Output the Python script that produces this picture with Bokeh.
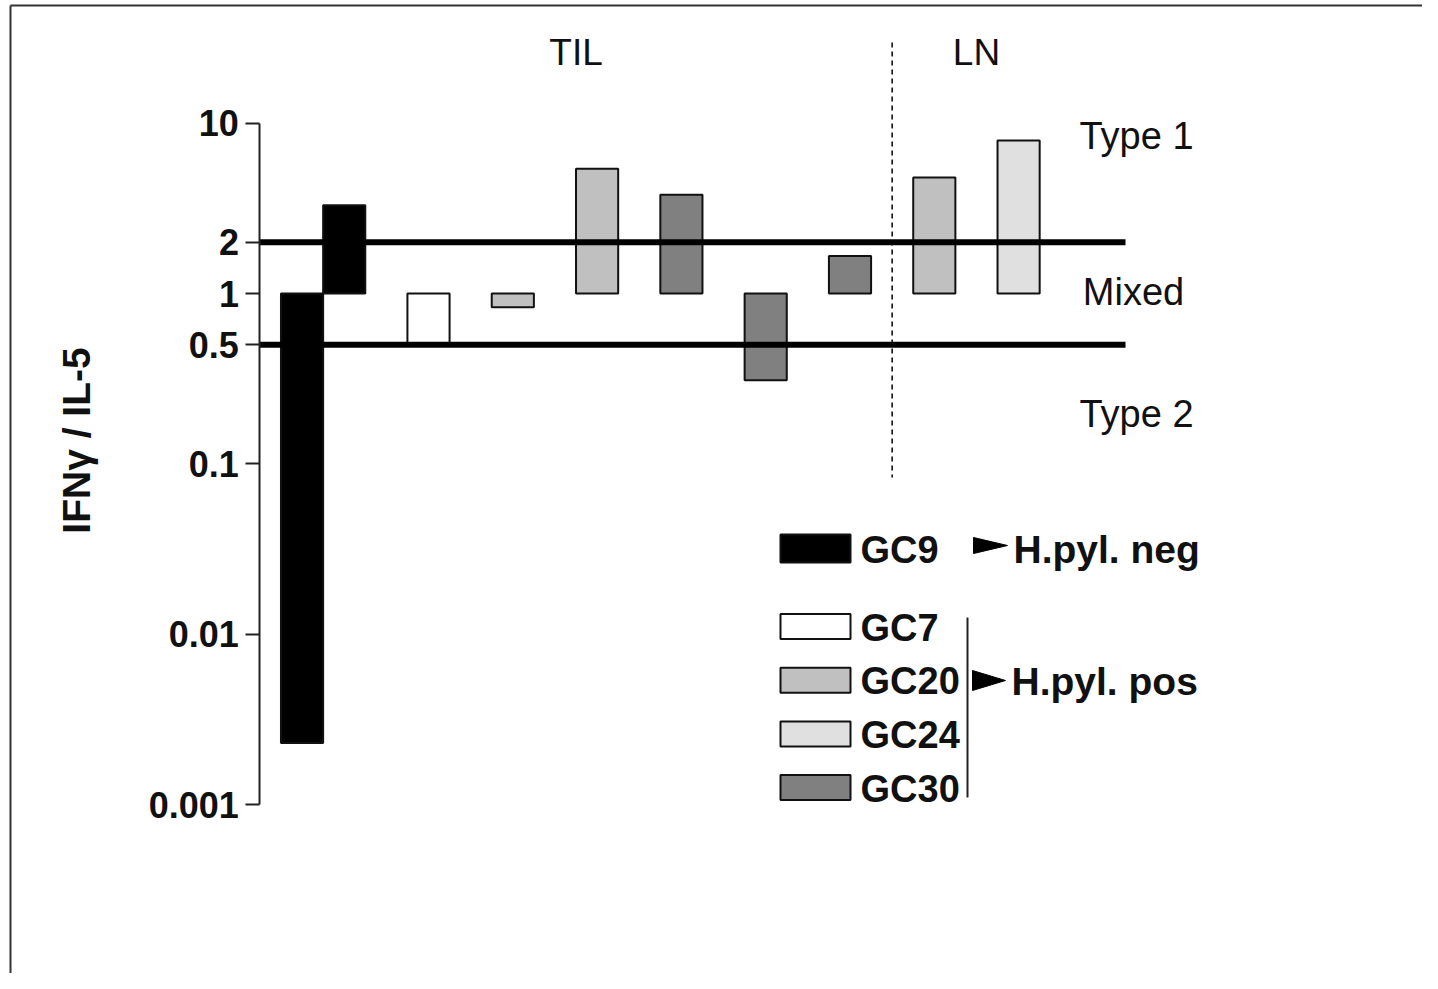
import math
from bokeh.plotting import figure
from bokeh.models import Range1d, FixedTicker, CustomJSTickFormatter, ColumnDataSource
from bokeh.core.properties import value
from bokeh.embed import file_html
from bokeh.resources import INLINE

# ---------------- data ----------------
patients = ["GC9", "GC9", "GC7", "GC20", "GC20", "GC30", "GC30", "GC30", "GC20", "GC24"]
sites = ["TIL", "TIL", "TIL", "TIL", "TIL", "TIL", "TIL", "TIL", "LN", "LN"]
ratios = [0.0023, 3.3, 0.5, 0.83, 5.4, 3.8, 0.31, 1.66, 4.8, 7.9]
baseline = 1.0
thresholds = [0.5, 2.0]
zone_labels = ["Type 1", "Mixed", "Type 2"]
site_labels = ["TIL", "LN"]
y_ticks = [0.001, 0.01, 0.1, 0.5, 1, 2, 10]
y_tick_labels = ["0.001", "0.01", "0.1", "0.5", "1", "2", "10"]
y_title = "IFNγ / IL-5"
neg_patients = ["GC9"]
pos_patients = ["GC7", "GC20", "GC24", "GC30"]
group_labels = ["H.pyl. neg", "H.pyl. pos"]

# ---------------- styles ----------------
FILL = {"GC9": "#000000", "GC7": "#ffffff", "GC20": "#c0c0c0",
        "GC24": "#e0e0e0", "GC30": "#808080"}
FONT = "Liberation Sans"
W, H = 1422, 973
PAGE_OFF = 0
SLOT_PX = 84.3          # pixels per bar slot
SLOT3_PX = 428          # page x of slot 3
ONE_PY = 293            # page y of value 1
DEC_PX = 170.4          # pixels per decade

x0 = 3 - (SLOT3_PX - PAGE_OFF) / SLOT_PX
x1 = x0 + W / SLOT_PX
ylog_top = (ONE_PY - PAGE_OFF) / DEC_PX
ylog_bot = (ONE_PY - PAGE_OFF - H) / DEC_PX


def cx(px):
    return x0 + (px - PAGE_OFF) / SLOT_PX


def cy(py):
    return 10 ** ((ONE_PY - py) / DEC_PX)


# slot positions: first patient's two bars side by side, then one slot each
xs = []
for i, pt in enumerate(patients):
    if i == 0:
        xs.append(1.5)
    elif i == 1:
        xs.append(2.0)
    else:
        xs.append(float(i + 1))
bar_w = 0.5

p = figure(width=W, height=H, x_range=Range1d(x0, x1),
           y_range=Range1d(10 ** ylog_bot, 10 ** ylog_top),
           y_axis_type="log", x_axis_location=None,
           toolbar_location=None, output_backend="svg", min_border=0)
p.outline_line_color = None
p.grid.visible = False
p.background_fill_color = "white"
p.border_fill_color = "white"

# frame edges (left and top, as in the cropped original)
p.segment(x0=[cx(10), cx(10)], x1=[cx(10), x1], y0=[10 ** ylog_bot, cy(5)],
          y1=[cy(5), cy(5)], line_color="#333333", line_width=2)

# y axis
ax = p.yaxis[0]
ax.fixed_location = xs[0] - bar_w
ax.bounds = (y_ticks[0], y_ticks[-1])
ax.ticker = FixedTicker(ticks=y_ticks)
ax.formatter = CustomJSTickFormatter(args=dict(tvals=y_ticks, tlabels=y_tick_labels), code="""
    for (let i = 0; i < tvals.length; i++) {
        if (Math.abs(tvals[i] - tick) <= 1e-9 * Math.max(1, tvals[i])) return tlabels[i];
    }
    return '';
""")
ax.axis_line_width = 2
ax.axis_line_color = "#222222"
ax.major_tick_out = 14
ax.major_tick_in = 0
ax.major_tick_line_width = 2
ax.major_tick_line_color = "#222222"
ax.minor_tick_line_color = None
ax.major_label_standoff = 7
ax.major_label_text_font = FONT
ax.major_label_text_font_style = "bold"
ax.major_label_text_font_size = "36px"
ax.major_label_text_color = "#111111"

# y-axis title (placed as in the original, slightly above the axis middle)
p.text(x=[cx(76)], y=[cy(440)], text=[y_title], angle=math.pi / 2,
       text_font=value(FONT), text_font_style="bold", text_font_size=value("39px"),
       text_align="center", text_baseline="middle", text_color="#111111")

# bars (floating from 1)
src = ColumnDataSource(dict(
    left=[x - bar_w / 2 for x in xs], right=[x + bar_w / 2 for x in xs],
    bottom=[baseline] * len(xs), top=ratios,
    color=[FILL[pt] for pt in patients], patient=patients, site=sites))
p.quad(left="left", right="right", bottom="bottom", top="top", fill_color="color",
       line_color="#111111", line_width=2, source=src)

# threshold lines
x_end = cx(1125)
p.segment(x0=[ax.fixed_location] * len(thresholds), x1=[x_end] * len(thresholds),
          y0=thresholds, y1=thresholds, line_color="black", line_width=6)

# TIL / LN separator
til_x = [x for x, st in zip(xs, sites) if st == "TIL"]
ln_x = [x for x, st in zip(xs, sites) if st == "LN"]
sep = (max(til_x) + min(ln_x)) / 2
p.segment(x0=[sep], x1=[sep], y0=[cy(42)], y1=[cy(477)], line_color="black",
          line_width=1.5, line_dash="5 4")

# site labels
p.text(x=[(min(til_x) + max(til_x)) / 2, (min(ln_x) + max(ln_x)) / 2],
       y=[cy(52), cy(52)], text=site_labels, text_font=value(FONT),
       text_font_size=value("37px"), text_align="center", text_baseline="middle",
       text_color="#111111")

# zone labels
p.text(x=[cx(1136), cx(1133), cx(1136)], y=[cy(135), cy(291), cy(413)],
       text=zone_labels, text_font=value(FONT), text_font_size=value("38px"),
       text_align="center", text_baseline="middle", text_color="#111111")

# ---------------- legend (hand drawn) ----------------
box_l, box_r = cx(780), cx(850)
rows_py = [548] + [626 + 53.7 * i for i in range(len(pos_patients))]
row_h = [28] + [25] * len(pos_patients)
leg_pts = neg_patients + pos_patients
p.quad(left=[box_l] * len(leg_pts), right=[box_r] * len(leg_pts),
       top=[cy(r - h / 2) for r, h in zip(rows_py, row_h)],
       bottom=[cy(r + h / 2) for r, h in zip(rows_py, row_h)],
       fill_color=[FILL[pt] for pt in leg_pts], line_color="#111111", line_width=2)
p.text(x=[cx(860)] * len(leg_pts), y=[cy(r + 1) for r in rows_py], text=leg_pts,
       text_font=value(FONT), text_font_style="bold", text_font_size=value("38px"),
       text_align="left", text_baseline="middle", text_color="#111111")

# bracket for positive group
p.segment(x0=[cx(967)], x1=[cx(967)], y0=[cy(617)], y1=[cy(797)],
          line_color="#222222", line_width=2)

# arrows
arrow_specs = [(973, 1007, 545, 8), (972, 1005, 680, 10)]
p.patches(xs=[[cx(a), cx(b), cx(a)] for a, b, c, h in arrow_specs],
          ys=[[cy(c - h), cy(c), cy(c + h)] for a, b, c, h in arrow_specs],
          fill_color="black", line_color="black", line_width=1)

p.text(x=[cx(1013), cx(1011)], y=[cy(549), cy(681)], text=group_labels,
       text_font=value(FONT), text_font_style="bold", text_font_size=value("39px"),
       text_align="left", text_baseline="middle", text_color="#111111")

open("out.html", "w").write(file_html(p, INLINE))
